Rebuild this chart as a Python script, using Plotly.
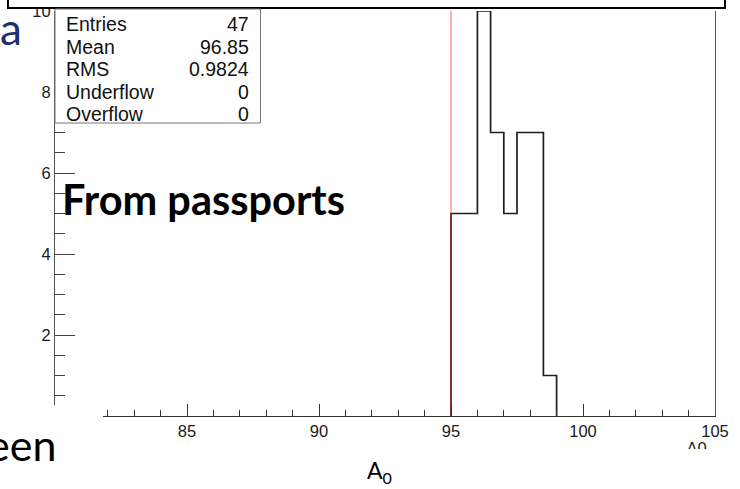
import plotly.graph_objects as go

# ---- data ----
bin_edges = [95.0, 95.5, 96.0, 96.5, 97.0, 97.5, 98.0, 98.5, 99.0]
bin_counts = [5, 5, 10, 7, 5, 7, 7, 1]
cut_value = 95.0
x_range = [80, 105]
y_range = [0, 10]
x_major = [85, 90, 95, 100, 105]
y_major = [2, 4, 6, 8, 10]
stats_labels = ["Entries", "Mean", "RMS", "Underflow", "Overflow"]
stats_values = ["47", "96.85", "0.9824", "0", "0"]

W, H = 740, 489
L, R, T, B = 55, 25, 11, 73
PW, PH = W - L - R, H - T - B


def px(x):
    return (x - L) / PW


def py(y):
    return (H - B - y) / PH


# histogram outline (steps)
xs = [bin_edges[0]] + bin_edges
ys = [0] + bin_counts + [0]

fig = go.Figure()
fig.add_trace(go.Scatter(x=xs, y=ys, mode="lines", line=dict(color="#1e1e1e", width=1.7, shape="hv"),
                         hoverinfo="skip", showlegend=False))
fig.add_trace(go.Scatter(x=[cut_value, cut_value], y=y_range, mode="lines",
                         line=dict(color="rgba(235,40,40,0.45)", width=1.6),
                         hoverinfo="skip", showlegend=False))
# invisible trace for secondary axis (holds cut-off ROOT axis title)
fig.add_trace(go.Scatter(x=x_range, y=[None, None], xaxis="x2", mode="lines", showlegend=False, hoverinfo="skip"))

tickfont = dict(family="Liberation Sans", size=16.5, color="#1a1a1a")

fig.update_layout(
    width=W, height=H,
    margin=dict(l=L, r=R, t=T, b=B, autoexpand=False),
    paper_bgcolor="white", plot_bgcolor="white",
    xaxis=dict(range=x_range, tickvals=x_major, ticks="inside", ticklen=12, tickcolor="#333",
               showline=True, linecolor="#333", linewidth=1.2, mirror=False, showgrid=False, zeroline=False,
               tickfont=tickfont, automargin=False,
               minor=dict(dtick=1, ticks="inside", ticklen=6, tickcolor="#333")),
    xaxis2=dict(range=x_range, overlaying="x", side="bottom", anchor="y", tickvals=[104.3], ticktext=["A0"],
                ticks="", showline=False, showgrid=False, zeroline=False, tickfont=tickfont,
                ticklabelstandoff=20, automargin=False),
    yaxis=dict(range=y_range, tickvals=y_major, ticks="inside", ticklen=20, tickcolor="#444",
               showline=True, linecolor="#555", linewidth=1.2, mirror=True, showgrid=False, zeroline=False,
               tickfont=tickfont, automargin=False,
               minor=dict(dtick=0.5, ticks="inside", ticklen=10, tickcolor="#444")),
)

shapes = []
# white slide covers
shapes.append(dict(type="rect", xref="paper", yref="paper", x0=px(-5), x1=px(103), y0=py(405), y1=py(495),
                   fillcolor="white", line=dict(width=0), layer="above"))
shapes.append(dict(type="rect", xref="paper", yref="paper", x0=px(-5), x1=px(745), y0=py(449), y1=py(495),
                   fillcolor="white", line=dict(width=0), layer="above"))
# top slide box
shapes.append(dict(type="rect", xref="paper", yref="paper", x0=px(8), x1=px(725), y0=py(-5), y1=py(8),
                   fillcolor="white", line=dict(color="black", width=2), layer="above"))
# stats box
shapes.append(dict(type="rect", xref="paper", yref="paper", x0=px(55), x1=px(260.5), y0=py(123), y1=py(9),
                   fillcolor="white", line=dict(color="#777", width=1), layer="above"))
fig.update_layout(shapes=shapes)

ann = []
sfont = dict(family="Liberation Sans", size=19.5, color="#111")
for i, (lab, val) in enumerate(zip(stats_labels, stats_values)):
    yc = 24 + i * 22.6
    ann.append(dict(x=px(64), y=py(yc), xref="paper", yref="paper", text=lab, showarrow=False,
                    xanchor="left", yanchor="middle", font=sfont))
    ann.append(dict(x=px(251), y=py(yc), xref="paper", yref="paper", text=val, showarrow=False,
                    xanchor="right", yanchor="middle", font=sfont))

ann.append(dict(x=px(60), y=py(199), xref="paper", yref="paper", text="<b>From passports</b>", showarrow=False,
                xanchor="left", yanchor="middle", font=dict(family="Lato", size=41.5, color="black")))
ann.append(dict(x=px(24), y=py(28), xref="paper", yref="paper", text="a", showarrow=False,
                xanchor="right", yanchor="middle", font=dict(family="Lato", size=44, color="#1c2f6e")))
ann.append(dict(x=px(58), y=py(445), xref="paper", yref="paper", text="een", showarrow=False,
                xanchor="right", yanchor="middle", font=dict(family="Lato", size=43, color="black")))
ann.append(dict(x=px(379), y=py(471), xref="paper", yref="paper", text="A<sub>0</sub>", showarrow=False,
                xanchor="center", yanchor="middle", font=dict(family="Lato", size=23, color="black")))
fig.update_layout(annotations=ann)

fig.write_html("out.html")
